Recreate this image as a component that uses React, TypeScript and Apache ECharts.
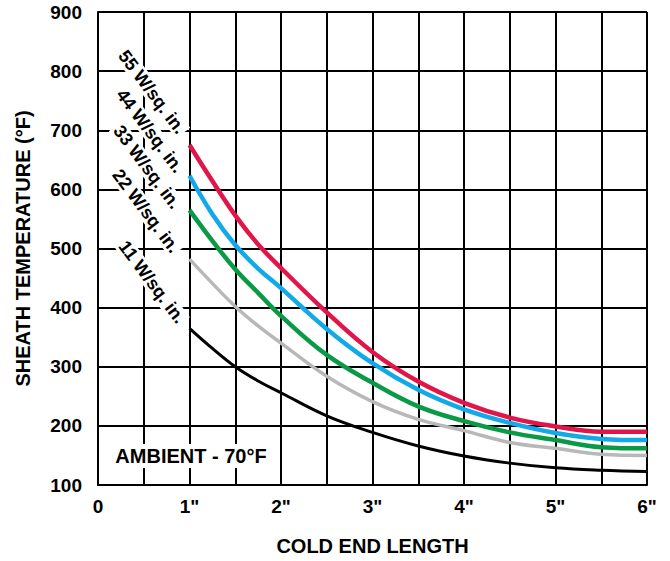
import React, { useEffect, useRef } from 'react';
import * as echarts from 'echarts';

const lengths = [1, 1.25, 1.5, 1.75, 2, 2.5, 3, 3.5, 4, 4.5, 5, 5.5, 6];
const temp55 = [675, 614, 556, 507, 467, 392, 325, 275, 239, 214, 199, 190, 190];
const temp44 = [623, 558, 506, 466, 433, 364, 306, 261, 228, 205, 188, 178, 176];
const temp33 = [565, 513, 465, 425, 386, 320, 273, 233, 208, 189, 176, 164, 162];
const temp22 = [482, 441, 402, 369, 340, 284, 241, 211, 192, 172, 162, 152, 150];
const temp11 = [365, 331, 300, 276, 256, 217, 189, 166, 149, 137, 129, 125, 123];
const seriesNames = ['55 W/sq. in.', '44 W/sq. in.', '33 W/sq. in.', '22 W/sq. in.', '11 W/sq. in.'];
const seriesValues = [temp55, temp44, temp33, temp22, temp11];
const xTickLabels = ['0', '1"', '2"', '3"', '4"', '5"', '6"'];
const xTitle = 'COLD END LENGTH';
const yTitle = 'SHEATH TEMPERATURE (°F)';
const ambientNote = 'AMBIENT - 70°F';

const colors = ['#E2154B', '#12A9E8', '#0A9A47', '#B8B8B8', '#000000'];
const widths = [4.5, 4.5, 4.5, 3.5, 3];
const labelPos = [
  [152, 92],
  [150, 131],
  [147, 167],
  [146, 211],
  [152, 282],
];

const FONT = '"Liberation Sans", Arial, Helvetica, sans-serif';

export default function App() {
  const ref = useRef<HTMLDivElement>(null);
  useEffect(() => {
    if (!ref.current) return;
    const chart = echarts.init(ref.current, undefined, { renderer: 'svg' });
    const series = seriesNames.map((name, i) => ({
      name,
      type: 'line',
      data: lengths.map((x, j) => [x, seriesValues[i][j]]),
      smooth: 0.4,
      showSymbol: false,
      symbol: 'none',
      lineStyle: { color: colors[i], width: widths[i], cap: 'butt' },
      z: 10 - i,
    }));
    const graphic: any[] = seriesNames.map((name, i) => ({
      type: 'text',
      x: labelPos[i][0],
      y: labelPos[i][1],
      rotation: (-53 * Math.PI) / 180,
      z: 100,
      style: {
        text: name,
        font: `bold 18px ${FONT}`,
        fill: '#000',
        align: 'center',
        verticalAlign: 'middle',
        textAlign: 'center',
        textVerticalAlign: 'middle',
        backgroundColor: '#fff',
        padding: [0, 2],
      },
    }));
    graphic.push({
      type: 'text',
      x: 191,
      y: 456,
      z: 100,
      style: {
        text: ambientNote,
        font: `bold 20px ${FONT}`,
        fill: '#000',
        align: 'center',
        verticalAlign: 'middle',
        textAlign: 'center',
        textVerticalAlign: 'middle',
        backgroundColor: '#fff',
        padding: [2, 3],
      },
    });
    chart.setOption({
      animation: false,
      backgroundColor: '#fff',
      grid: { left: 98, top: 12, width: 549, height: 474, containLabel: false },
      xAxis: {
        type: 'value',
        min: 0,
        max: 6,
        interval: 0.5,
        name: xTitle,
        nameLocation: 'middle',
        nameGap: 51,
        nameTextStyle: { fontFamily: FONT, fontWeight: 'bold', fontSize: 20, color: '#000' },
        axisLine: { show: true, lineStyle: { color: '#000', width: 2 } },
        axisTick: { show: false },
        splitLine: { show: true, lineStyle: { color: '#000', width: 2 } },
        axisLabel: {
          margin: 12,
          fontFamily: FONT,
          fontWeight: 'bold',
          fontSize: 19,
          color: '#000',
          formatter: (v: number) => {
            const r = Math.round(v);
            return Math.abs(v - r) < 1e-6 ? xTickLabels[r] : '';
          },
        },
      },
      yAxis: {
        type: 'value',
        min: 100,
        max: 900,
        interval: 100,
        name: yTitle,
        nameLocation: 'middle',
        nameGap: 65,
        nameRotate: 90,
        nameTextStyle: { fontFamily: FONT, fontWeight: 'bold', fontSize: 20, color: '#000' },
        axisLine: { show: true, lineStyle: { color: '#000', width: 2 } },
        axisTick: { show: false },
        splitLine: { show: true, lineStyle: { color: '#000', width: 2 } },
        axisLabel: {
          margin: 16,
          fontFamily: FONT,
          fontWeight: 'bold',
          fontSize: 19,
          color: '#000',
        },
      },
      series,
      graphic,
    });
    return () => chart.dispose();
  }, []);
  return (
    <div
      ref={ref}
      style={{ position: 'fixed', left: 0, top: 0, width: 670, height: 561, background: '#fff' }}
    />
  );
}
